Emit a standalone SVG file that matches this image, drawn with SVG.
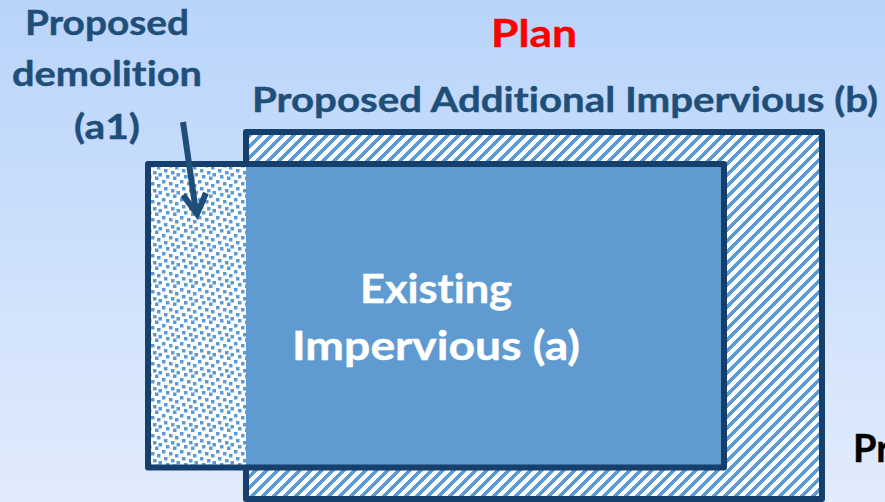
<svg xmlns="http://www.w3.org/2000/svg" width="885" height="502" viewBox="0 0 885 502">
<style>
text{font-family:"Lato","Liberation Sans",sans-serif;font-weight:700;text-anchor:middle;font-variant-ligatures:none}
.lbl{fill:#1f4e79;font-size:35px;stroke:#1f4e79;stroke-width:.4px}
.box{stroke:#153f6c;stroke-width:6;stroke-linejoin:round}
</style>
<defs>
<linearGradient id="bg" x1="0" y1="0" x2="0" y2="1"><stop offset="0" stop-color="#b9d4fb"/><stop offset="1" stop-color="#e1ecfc"/></linearGradient>
<pattern id="hatch" width="11" height="11" patternUnits="userSpaceOnUse"><rect width="11" height="11" fill="#fff"/><path d="M-3 3L3 -3M-3 14L14 -3M8 14L14 8" stroke="#5b9bd5" stroke-width="3" shape-rendering="crispEdges"/></pattern>
<pattern id="dots" width="18" height="18" patternUnits="userSpaceOnUse"><rect width="18" height="18" fill="#fff"/><g fill="#5b9bd5"><rect x="0" y="0" width="3.500" height="3.500"/><rect x="7" y="2" width="3.500" height="3.500"/><rect x="13" y="4" width="3.500" height="3.500"/><rect x="2" y="7" width="3.500" height="3.500"/><rect x="9" y="9" width="3.500" height="3.500"/><rect x="14.500" y="11" width="3.500" height="3.500"/><rect x="4" y="13" width="3.500" height="3.500"/><rect x="11" y="14.500" width="3.500" height="3.500"/></g></pattern>
</defs>
<rect width="885" height="502" fill="url(#bg)"/>
<g id="proposed-additional"><rect class="box" x="246" y="132" width="576" height="367" fill="url(#hatch)"/></g>
<g id="existing">
<rect x="148" y="164" width="98" height="303.500" fill="url(#dots)"/>
<rect x="246" y="164" width="478" height="303.500" fill="#5f9bd1"/>
<rect class="box" x="148" y="164" width="576" height="303.500" fill="none"/>
<text x="436" y="303" font-size="40" fill="#fff" stroke="#fff" stroke-width=".4" textLength="152" lengthAdjust="spacingAndGlyphs">Existing</text>
<text x="436" y="360" font-size="40" fill="#fff" stroke="#fff" stroke-width=".4" textLength="288" lengthAdjust="spacingAndGlyphs">Impervious (a)</text>
</g>
<g id="labels">
<text x="534" y="47" font-size="38" fill="#ff0000" stroke="#ff0000" stroke-width=".4" textLength="86" lengthAdjust="spacingAndGlyphs">Plan</text>
<text class="lbl" x="565" y="112" textLength="626" lengthAdjust="spacingAndGlyphs">Proposed Additional Impervious (b)</text>
<text class="lbl" x="107" y="35" textLength="164" lengthAdjust="spacingAndGlyphs">Proposed</text>
<text class="lbl" x="107" y="86" textLength="190" lengthAdjust="spacingAndGlyphs">demolition</text>
<text class="lbl" x="107" y="139" textLength="66" lengthAdjust="spacingAndGlyphs">(a1)</text>
<text x="853" y="462" font-size="38" fill="#000" stroke="#000" stroke-width=".4" style="text-anchor:start">Pr</text>
</g>
<g id="connectors" fill="none" stroke="#1f4e79" stroke-width="6">
<path d="M183 122L196 212"/>
<path d="M183 195L197 214L206 193" stroke-linejoin="miter"/>
</g>
</svg>
